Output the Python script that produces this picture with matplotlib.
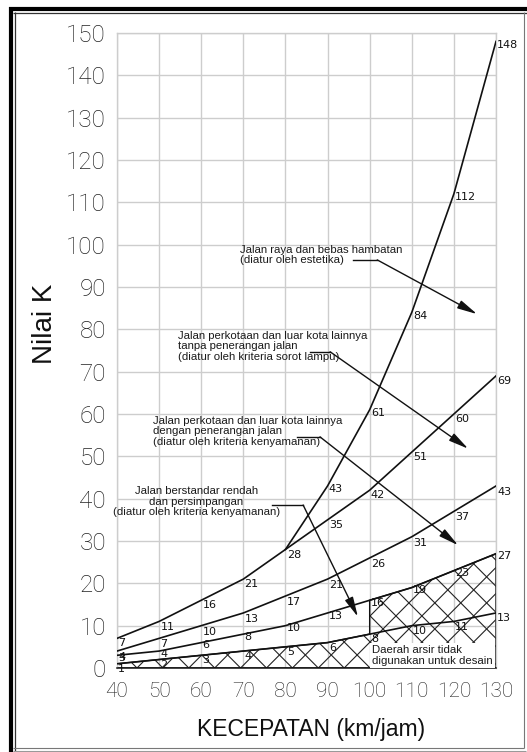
import numpy as np
import matplotlib
matplotlib.use("Agg")
import matplotlib.pyplot as plt
from matplotlib.patches import Polygon
from matplotlib.lines import Line2D

# ---------------- data ----------------
speed = [40, 50, 60, 70, 80, 90, 100, 110, 120, 130]
speed_hw = [80, 90, 100, 110, 120, 130]
k_highway = [28, 43, 61, 84, 112, 148]          # Jalan raya dan bebas hambatan
k_headlight = [7, 11, 16, 21, 28, 35, 42, 51, 60, 69]  # sorot lampu
k_comfort = [4, 7, 10, 13, 17, 21, 26, 31, 37, 43]     # kenyamanan (dengan penerangan)
k_low = [3, 4, 6, 8, 10, 13, 16, 19, 23, 27]            # berstandar rendah
k_min = [1, 2, 3, 4, 5, 6, 8, 10, 11, 13]               # batas bawah

x_ticks = [40, 50, 60, 70, 80, 90, 100, 110, 120, 130]
y_ticks = list(range(0, 151, 10))

ann_highway = "Jalan raya dan bebas hambatan\n(diatur oleh estetika)"
ann_headlight = "Jalan perkotaan dan luar kota lainnya\ntanpa penerangan jalan\n(diatur oleh kriteria sorot lampu)"
ann_comfort = "Jalan perkotaan dan luar kota lainnya\ndengan penerangan jalan\n(diatur oleh kriteria kenyamanan)"
ann_low = "Jalan berstandar rendah\ndan persimpangan\n(diatur oleh kriteria kenyamanan)"
ann_hatch = "Daerah arsir tidak\ndigunakan untuk desain"

# ---------------- figure ----------------
W, H = 527, 752
fig = plt.figure(figsize=(W / 100, H / 100), dpi=100)
fig.patch.set_facecolor("white")
L, R, T, B = 117, 496, 33, 668
ax = fig.add_axes([L / W, 1 - B / H, (R - L) / W, (B - T) / H])
ax.set_xlim(40, 130)
ax.set_ylim(0, 150)

gridc = "#cdcdcd"
ax.set_xticks(x_ticks)
ax.set_yticks(y_ticks)
ax.grid(True, color=gridc, lw=1.0, zorder=0)
ax.set_axisbelow(True)
for s in ["left", "top", "right"]:
    ax.spines[s].set_color(gridc)
    ax.spines[s].set_linewidth(1.0)
ax.spines["bottom"].set_color("#111111")
ax.spines["bottom"].set_linewidth(1.1)
ax.tick_params(length=0)

ytickfont = dict(family=["Roboto", "DejaVu Sans"], weight="light", size=17.5)
xtickfont = dict(family=["Roboto", "DejaVu Sans"], weight="light", size=15)
ax.set_xticklabels([str(v) for v in x_ticks], fontdict=xtickfont, color="#222222")
ax.set_yticklabels([str(v) for v in y_ticks], fontdict=ytickfont, color="#222222")
ax.tick_params(axis="x", pad=10)
ax.tick_params(axis="y", pad=8)

ax.set_xlabel("KECEPATAN (km/jam)", family="Liberation Sans", fontsize=16.5, color="#111111")
ax.xaxis.set_label_coords(0.512, -0.079)
ax.set_ylabel("Nilai K", family="Liberation Sans", fontsize=20, color="#111111", va="center")
ax.yaxis.set_label_coords(-0.19, 0.542)

# ---------------- hatched region ----------------
xs = np.array(speed, dtype=float)
e = np.array(k_min, dtype=float)
d = np.array(k_low, dtype=float)
left_part = xs <= 100
right_part = xs >= 100
verts = [(40, 0)] + list(zip(xs[left_part], e[left_part])) + \
        list(zip(xs[right_part], d[right_part])) + [(130, 0)]
poly = Polygon(verts, closed=True, facecolor="none", edgecolor="#111111", lw=1.0, zorder=2)
ax.add_patch(poly)
clip_poly = Polygon(verts, closed=True, facecolor="none", edgecolor="none", transform=ax.transData)
ax.add_patch(clip_poly)
step = 6.15
for c in np.arange(44.75 - 10 * step, 175, step):
    for sgn in (1, -1):
        hx = np.array([c - 45, c + 45])
        hy = sgn * (hx - c)
        ln, = ax.plot(hx, hy, color="#222222", lw=0.8, zorder=1.5)
        ln.set_clip_path(clip_poly)

# ---------------- curves ----------------
lc = "#111111"
ax.plot(speed_hw, k_highway, color=lc, lw=1.2, zorder=3)
for arr in (k_headlight, k_comfort, k_low, k_min):
    ax.plot(speed, arr, color=lc, lw=1.2, zorder=3)

numfont = dict(family="DejaVu Sans", size=8, color="#111111")
def label_points(xv, yv, dy=-1.3, skip=()):
    for xi, yi in zip(xv, yv):
        if xi in skip:
            continue
        ax.text(xi + 0.3, yi + dy, str(yi), ha="left", va="center", zorder=4, **numfont)

label_points(speed_hw, k_highway, dy=-0.8, skip=(80,))
label_points(speed, k_headlight, dy=-1.2)
label_points(speed, k_comfort, dy=-1.4)
label_points(speed, k_low, dy=-0.6)
label_points(speed, k_min, dy=-1.2)

# ---------------- annotations ----------------
annfont = dict(family="Liberation Sans", fontsize=8.2, color="#1a1a1a", linespacing=1.08, zorder=5)
ax.text(69.2, 100.0, ann_highway, ha="left", va="top", **annfont)
ax.text(54.5, 79.7, ann_headlight, ha="left", va="top", **annfont)
ax.text(48.5, 59.6, ann_comfort, ha="left", va="top", **annfont)
ax.text(58.8, 43.0, ann_low, ha="center", va="top", multialignment="center", **annfont)

leaders = [
    ((96.0, 96.4), (101.8, 96.4), (125.5, 83.6)),
    ((85.8, 74.7), (90.6, 74.7), (123.4, 51.8)),
    ((82.8, 54.6), (88.2, 54.6), (121.0, 29.0)),
    ((76.8, 38.5), (84.2, 38.5), (97.2, 12.1)),
]
for p0, p1, p2 in leaders:
    ax.plot([p0[0], p1[0]], [p0[1], p1[1]], color=lc, lw=1.0, zorder=4)
    ax.annotate("", xy=p2, xytext=p1,
                arrowprops=dict(arrowstyle="-|>,head_length=1.0,head_width=0.22",
                                color=lc, lw=1.0, shrinkA=0, shrinkB=0, mutation_scale=12),
                zorder=4)

ax.text(100.6, 0.5, ann_hatch, ha="left", va="bottom",
        family="Liberation Sans", fontsize=8.2, color="#1a1a1a", linespacing=1.1, zorder=4,
        bbox=dict(facecolor="white", edgecolor="none", pad=1.2))
ax.plot([130, 130], [0, 27], color=lc, lw=1.0, zorder=5)

# ---------------- outer frame ----------------
def fline(x0, y0, x1, y1, lw, color):
    fig.add_artist(Line2D([x0 / W, x1 / W], [1 - y0 / H, 1 - y1 / H],
                          transform=fig.transFigure, lw=lw, color=color, solid_capstyle="butt"))

fline(11, 7, 11, 752, 3.0, "black")
fline(9, 9, 527, 9, 3.0, "black")
fline(15, 12, 15, 752, 0.9, "#333333")
fline(13, 12.5, 527, 12.5, 0.9, "#333333")
fline(13, 747.5, 524, 747.5, 0.8, "#777777")
fline(13, 750.5, 526, 750.5, 0.8, "#999999")
fline(523.5, 12, 523.5, 748, 0.8, "#777777")

fig.savefig("out.png", dpi=100, facecolor="white")
